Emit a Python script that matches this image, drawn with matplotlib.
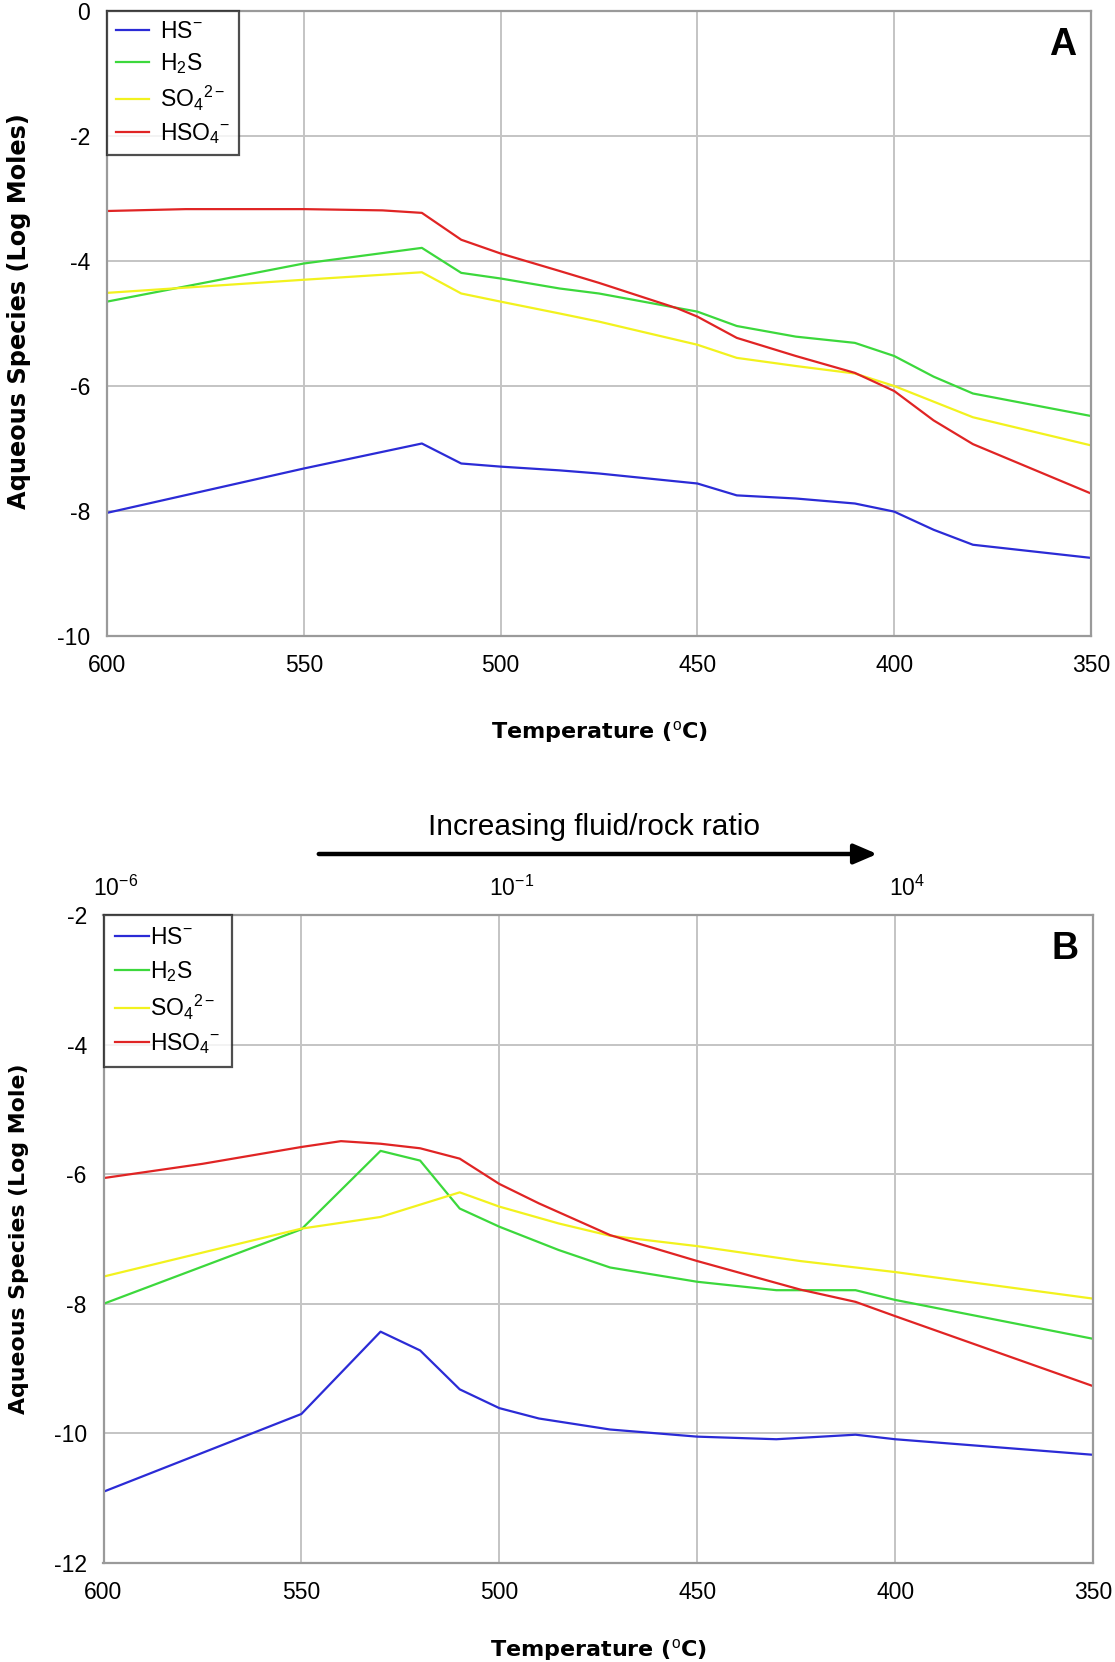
import matplotlib
matplotlib.use("Agg")
import matplotlib.pyplot as plt
from matplotlib.patches import FancyArrowPatch

# ---------------- data ----------------
# Panel A: aqueous sulfur species vs temperature (log moles)
temp_a_hs = [600, 550, 520, 510, 500, 485, 475, 450, 440, 425, 410, 400, 390, 380, 350]
hs_a = [-8.03, -7.32, -6.92, -7.24, -7.29, -7.35, -7.40, -7.56, -7.75, -7.80, -7.88, -8.01, -8.30, -8.54, -8.75]

temp_a_h2s = [600, 550, 520, 510, 500, 485, 475, 450, 440, 425, 410, 400, 390, 380, 350]
h2s_a = [-4.65, -4.04, -3.79, -4.19, -4.28, -4.44, -4.52, -4.81, -5.04, -5.21, -5.31, -5.52, -5.85, -6.12, -6.48]

temp_a_so4 = [600, 550, 520, 510, 500, 485, 475, 450, 440, 425, 410, 400, 390, 380, 350]
so4_a = [-4.51, -4.30, -4.18, -4.52, -4.65, -4.84, -4.97, -5.34, -5.55, -5.68, -5.80, -6.00, -6.25, -6.50, -6.95]

temp_a_hso4 = [600, 580, 550, 530, 520, 510, 500, 485, 475, 455, 450, 440, 425, 410, 400, 390, 380, 350]
hso4_a = [-3.20, -3.17, -3.17, -3.19, -3.23, -3.66, -3.88, -4.16, -4.35, -4.76, -4.89, -5.23, -5.52, -5.79, -6.08, -6.55, -6.93, -7.72]

# Panel B: aqueous sulfur species vs temperature (log mole)
temp_b_hs = [600, 550, 530, 520, 510, 500, 490, 472, 450, 430, 410, 400, 350]
hs_b = [-10.90, -9.70, -8.43, -8.72, -9.32, -9.61, -9.77, -9.94, -10.05, -10.09, -10.02, -10.09, -10.33]

temp_b_h2s = [600, 550, 530, 520, 510, 500, 485, 472, 450, 430, 410, 400, 350]
h2s_b = [-8.00, -6.85, -5.64, -5.79, -6.53, -6.81, -7.17, -7.44, -7.66, -7.79, -7.79, -7.94, -8.54]

temp_b_so4 = [600, 550, 530, 510, 500, 485, 472, 450, 424, 400, 350]
so4_b = [-7.58, -6.84, -6.66, -6.28, -6.50, -6.76, -6.95, -7.11, -7.34, -7.51, -7.92]

temp_b_hso4 = [600, 575, 550, 540, 530, 520, 510, 500, 490, 472, 450, 424, 410, 400, 350]
hso4_b = [-6.06, -5.84, -5.58, -5.49, -5.53, -5.60, -5.76, -6.15, -6.45, -6.94, -7.34, -7.78, -7.97, -8.19, -9.27]

species_labels = [r"HS$^{-}$", r"H$_2$S", r"SO$_4$$^{2-}$", r"HSO$_4$$^{-}$"]
species_colors = ["#2b2bd6", "#3cd83c", "#f2f21e", "#e02424"]

temp_ticks = [600, 550, 500, 450, 400, 350]
ratio_positions = [600, 500, 400]
ratio_labels = [r"10$^{-6}$", r"10$^{-1}$", r"10$^{4}$"]

# ---------------- style ----------------
plt.rcParams["font.family"] = ["Liberation Sans", "DejaVu Sans"]
plt.rcParams["mathtext.fontset"] = "custom"
plt.rcParams["mathtext.rm"] = "Liberation Sans"
plt.rcParams["mathtext.it"] = "Liberation Sans:italic"
plt.rcParams["mathtext.bf"] = "Liberation Sans:bold"

W, H = 1115, 1662
fig = plt.figure(figsize=(W / 100, H / 100), dpi=100)

grid_col = "#c4c4c4"
spine_col = "#9a9a9a"
tick_fs = 16.5
leg_fs = 16.5
xlabel_font = dict(family="DejaVu Sans", weight="bold", size=16)


def px_axes(left, top, right, bottom):
    return fig.add_axes([left / W, 1 - bottom / H, (right - left) / W, (bottom - top) / H])


def style_axes(ax, ylim, yticks):
    ax.set_xlim(600, 350)
    ax.set_ylim(*ylim)
    ax.set_xticks(temp_ticks)
    ax.set_xticklabels([str(t) for t in temp_ticks])
    ax.set_yticks(yticks)
    ax.set_yticklabels([str(v) for v in yticks])
    ax.grid(True, color=grid_col, linewidth=1.4)
    ax.set_axisbelow(True)
    ax.tick_params(axis="x", length=0, labelsize=tick_fs, pad=13)
    ax.tick_params(axis="y", length=0, labelsize=tick_fs, pad=12)
    for s in ax.spines.values():
        s.set_color(spine_col)
        s.set_linewidth(1.6)


def draw_series(ax, series):
    for (t, v), lab, col in zip(series, species_labels, species_colors):
        ax.plot(t, v, color=col, linewidth=1.6, label=lab)


def style_legend(leg):
    leg.get_frame().set_edgecolor("#222222")
    leg.get_frame().set_linewidth(1.6)


# ---------------- panel A ----------------
ax_a = px_axes(107, 11, 1091, 636)
style_axes(ax_a, (-10, 0), [0, -2, -4, -6, -8, -10])
draw_series(ax_a, [(temp_a_hs, hs_a), (temp_a_h2s, h2s_a), (temp_a_so4, so4_a), (temp_a_hso4, hso4_a)])
leg_a = ax_a.legend(loc="upper left", bbox_to_anchor=(0, 1), borderaxespad=0,
                    fontsize=leg_fs, frameon=True, fancybox=False, handlelength=1.45,
                    handletextpad=0.45, labelspacing=0.35, borderpad=0.4)
style_legend(leg_a)
ax_a.text(0.985, 0.975, "A", transform=ax_a.transAxes, ha="right", va="top",
          fontsize=27, fontweight="bold", family="Liberation Sans")
ax_a.set_xlabel("Temperature ($^{\\rm o}$C)", labelpad=30, **xlabel_font)
ax_a.set_ylabel("Aqueous Species (Log Moles)", family="DejaVu Sans", weight="bold", size=17.3)
ax_a.yaxis.set_label_coords(-0.0772, 0.52)

# ---------------- panel B ----------------
ax_b = px_axes(103.5, 915, 1093, 1563)
style_axes(ax_b, (-12, -2), [-2, -4, -6, -8, -10, -12])
draw_series(ax_b, [(temp_b_hs, hs_b), (temp_b_h2s, h2s_b), (temp_b_so4, so4_b), (temp_b_hso4, hso4_b)])
leg_b = ax_b.legend(loc="upper left", bbox_to_anchor=(0, 1), borderaxespad=0,
                    fontsize=leg_fs, frameon=True, fancybox=False, handlelength=1.5,
                    handletextpad=0.05, labelspacing=0.4, borderpad=0.5)
style_legend(leg_b)
ax_b.text(0.985, 0.975, "B", transform=ax_b.transAxes, ha="right", va="top",
          fontsize=27, fontweight="bold", family="Liberation Sans")
ax_b.set_xlabel("Temperature ($^{\\rm o}$C)", labelpad=24, **xlabel_font)
ax_b.set_ylabel("Aqueous Species (Log Mole)", family="DejaVu Sans", weight="bold", size=15.8)
ax_b.yaxis.set_label_coords(-0.0757, 0.5)

# fluid/rock ratio scale above panel B
for pos, lab in zip(ratio_positions, ratio_labels):
    ax_b.annotate(lab, xy=(pos, 1), xycoords=("data", "axes fraction"),
                  xytext=(12, 27), textcoords="offset pixels",
                  ha="center", va="center", fontsize=tick_fs, annotation_clip=False)

fig.add_artist(FancyArrowPatch(
    (316 / W, 1 - 854 / H), (880 / W, 1 - 854 / H), transform=fig.transFigure,
    arrowstyle="-|>,head_length=14,head_width=6", mutation_scale=1,
    color="black", linewidth=3.2))
fig.text(594 / W, 1 - 827 / H, "Increasing fluid/rock ratio", ha="center", va="center",
         fontsize=21.5, family="Liberation Sans")

fig.savefig("out.png", dpi=100)
